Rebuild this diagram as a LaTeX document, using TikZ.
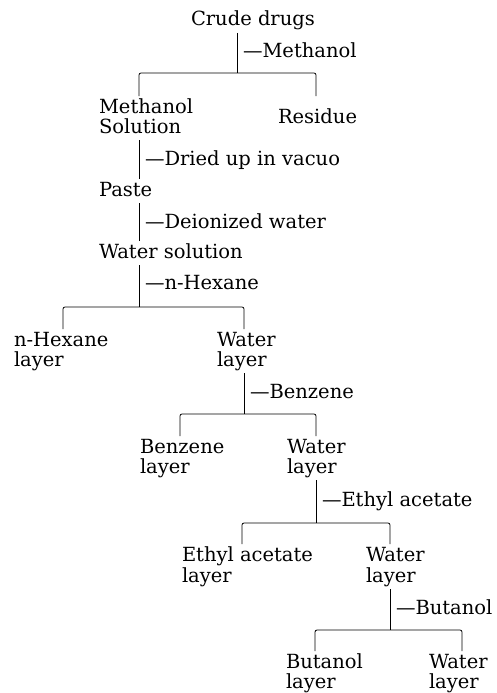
\documentclass[tikz,border=0pt]{standalone}
\usepackage{fontspec}
\setmainfont{DejaVu Serif}
\tikzset{
  txt/.style={anchor=base west, inner sep=0pt, outer sep=2pt, text height=15pt, text depth=5pt, font=\fontsize{19.5}{20}\selectfont},
  ln/.style={line width=0.8pt},
  bar/.style={line width=0.8pt, rounded corners=2pt}
}
\begin{document}
\begin{tikzpicture}[x=1pt,y=-1pt]
\useasboundingbox (0,0) rectangle (496,693);
% level 0
\node[txt] (crude) at (189,26) {Crude drugs};
\node[txt] (lmeth) at (241,57) {—Methanol};
\coordinate (b1) at (237,73);
\coordinate (b1l) at (139,73);
\coordinate (b1r) at (316,73);
\node[txt] (ms1) at (97,113) {Methanol};
\node[txt] (ms2) at (97,133) {Solution};
\node[txt] (res) at (276,123) {Residue};
\draw[ln] (crude.south -| b1) -- (b1);
\draw[bar] (ms1.north -| b1l) -- (b1l) -- (b1r) -- (ms1.north -| b1r);
% paste
\node[txt] (ldry) at (143,165) {—Dried up in vacuo};
\node[txt] (paste) at (97,196) {Paste};
\draw[ln] (ms2.south -| b1l) -- (paste.north -| b1l);
\node[txt] (ldei) at (143,228) {—Deionized water};
\node[txt] (ws) at (97,258) {Water solution};
\draw[ln] (paste.south -| b1l) -- (ws.north -| b1l);
\node[txt] (lhex) at (143,289) {—n-Hexane};
\coordinate (b2) at (139,307);
\coordinate (b2l) at (63,307);
\coordinate (b2r) at (244,307);
\draw[ln] (ws.south -| b2) -- (b2);
\node[txt] (hx1) at (12,346) {n-Hexane};
\node[txt] (hx2) at (12,366) {layer};
\node[txt] (wa1) at (215,346) {Water};
\node[txt] (wa2) at (215,366) {layer};
\draw[bar] (hx1.north -| b2l) -- (b2l) -- (b2r) -- (hx1.north -| b2r);
% benzene
\node[txt] (lbenz) at (248,398) {—Benzene};
\coordinate (b3) at (244,414);
\coordinate (b3l) at (180,414);
\coordinate (b3r) at (316,414);
\draw[ln] (wa2.south -| b3) -- (b3);
\node[txt] (bz1) at (138,453) {Benzene};
\node[txt] (bz2) at (138,473) {layer};
\node[txt] (wb1) at (285,453) {Water};
\node[txt] (wb2) at (285,473) {layer};
\draw[bar] (bz1.north -| b3l) -- (b3l) -- (b3r) -- (bz1.north -| b3r);
% ethyl acetate
\node[txt] (lea) at (320,506) {—Ethyl acetate};
\coordinate (b4) at (316,523);
\coordinate (b4l) at (242,523);
\coordinate (b4r) at (390,523);
\draw[ln] (wb2.south -| b4) -- (b4);
\node[txt] (ea1) at (180,561) {Ethyl acetate};
\node[txt] (ea2) at (180,582) {layer};
\node[txt] (wc1) at (364,561) {Water};
\node[txt] (wc2) at (364,582) {layer};
\draw[bar] (ea1.north -| b4l) -- (b4l) -- (b4r) -- (ea1.north -| b4r);
% butanol
\node[txt] (lbut) at (394,614) {—Butanol};
\coordinate (b5) at (390,630);
\coordinate (b5l) at (315,630);
\coordinate (b5r) at (462,630);
\draw[ln] (wc2.south -| b5) -- (b5);
\node[txt] (bu1) at (284,668) {Butanol};
\node[txt] (bu2) at (284,688) {layer};
\node[txt] (wd1) at (427,668) {Water};
\node[txt] (wd2) at (427,688) {layer};
\draw[bar] (bu1.north -| b5l) -- (b5l) -- (b5r) -- (bu1.north -| b5r);
\end{tikzpicture}
\end{document}
